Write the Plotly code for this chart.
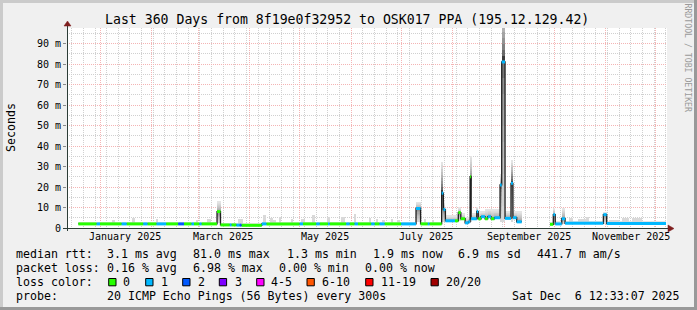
import numpy as np
import pandas as pd
import plotly.graph_objects as go

# ---------------- data ----------------
TITLE = "Last 360 Days from 8f19e0f32952 to OSK017 PPA (195.12.129.42)"
x_range = ["2024-12-12 04:00", "2025-12-07 18:00"]
y_max_ms = 97.56

sample_start = [
    "2024-12-19 00:00", "2024-12-30 00:00", "2025-01-01 00:00", "2025-01-14 00:00",
    "2025-01-17 00:00", "2025-01-27 00:00", "2025-01-29 12:00", "2025-02-04 00:00",
    "2025-02-09 18:00", "2025-02-17 00:00", "2025-02-20 12:00", "2025-02-25 00:00",
    "2025-02-26 12:00", "2025-03-01 18:00", "2025-03-03 00:00", "2025-03-12 08:00",
    "2025-03-14 10:00", "2025-03-20 00:00", "2025-03-21 00:00", "2025-03-24 00:00",
    "2025-03-26 00:00", "2025-03-27 00:00", "2025-04-08 06:00", "2025-04-11 00:00",
    "2025-05-01 00:00", "2025-05-03 00:00", "2025-05-11 00:00", "2025-05-13 00:00",
    "2025-05-18 00:00", "2025-05-19 00:00", "2025-05-29 00:00", "2025-05-31 00:00",
    "2025-06-03 00:00", "2025-06-05 00:00", "2025-06-13 00:00", "2025-06-15 00:00",
    "2025-06-18 00:00", "2025-06-21 00:00", "2025-07-01 00:00", "2025-07-09 22:00",
    "2025-07-12 16:00", "2025-07-17 00:00", "2025-07-18 00:00", "2025-07-25 08:00",
    "2025-07-26 08:00", "2025-07-27 14:00", "2025-08-02 08:00", "2025-08-04 08:00",
    "2025-08-05 20:00", "2025-08-08 10:00", "2025-08-10 08:00", "2025-08-11 10:00",
    "2025-08-12 00:00", "2025-08-15 10:00", "2025-08-16 08:00", "2025-08-18 00:00",
    "2025-08-20 10:00", "2025-08-22 00:00", "2025-08-24 00:00", "2025-08-26 00:00",
    "2025-08-29 10:00", "2025-08-30 10:00", "2025-09-01 10:00", "2025-09-05 00:00",
    "2025-09-06 04:00", "2025-09-08 10:00", "2025-09-11 10:00", "2025-09-28 10:00",
    "2025-09-30 10:00", "2025-10-01 14:00", "2025-10-05 12:00", "2025-10-07 12:00",
    "2025-10-30 12:00", "2025-11-01 12:00",
]
data_end = "2025-12-07 04:00"

median_ms = [
    2.0, 2.0, 2.0, 2.0, 2.0, 2.0, 2.0, 2.0,
    2.0, 2.0, 2.0, 2.0, 2.0, 2.0, 2.0, 8.0,
    1.5, 1.5, 1.5, 1.4, 1.4, 1.3, 2.0, 2.0,
    2.0, 2.0, 2.0, 2.0, 2.0, 2.0, 2.0, 2.0,
    2.0, 2.0, 2.0, 2.0, 2.0, 2.0, 2.0, 9.5,
    2.0, 2.0, 2.0, 17.0, 9.0, 3.5, 3.5, 7.5,
    4.5, 2.5, 3.0, 25.0, 4.5, 8.0, 4.5, 5.5,
    4.5, 5.5, 4.5, 5.0, 21.0, 81.0, 4.7, 21.8,
    5.0, 3.0, None, 1.8, 6.5, 2.0, 4.5, 2.3,
    6.5, 2.2,
]
lost_pings = [
    0, 1, 0, 1, 0, 1, 0, 1,
    0, 2, 0, 1, 0, 1, 0, 0,
    0, 1, 0, 1, 2, 0, 1, 0,
    1, 0, 1, 0, 1, 0, 1, 0,
    1, 0, 1, 0, 1, 0, 1, 1,
    0, 1, 0, 1, 1, 1, 0, 0,
    0, 1, 1, 0, 1, 1, 0, 1,
    0, 1, 0, 1, 1, 1, 1, 1,
    1, 1, None, 0, 1, 1, 1, 1,
    1, 1,
]
smoke_lo_ms = [
    2.0, 2.0, 2.0, 2.0, 2.0, 2.0, 2.0, 2.0,
    2.0, 2.0, 2.0, 2.0, 2.0, 2.0, 2.0, 2.5,
    1.5, 1.5, 1.5, 1.4, 1.4, 1.3, 2.0, 2.0,
    2.0, 2.0, 2.0, 2.0, 2.0, 2.0, 2.0, 2.0,
    2.0, 2.0, 2.0, 2.0, 2.0, 2.0, 2.0, 3.0,
    2.0, 2.0, 2.0, 3.0, 3.0, 3.5, 3.5, 3.5,
    4.5, 2.5, 3.0, 3.0, 4.5, 4.5, 4.5, 5.5,
    4.5, 5.5, 4.5, 5.0, 3.0, 3.0, 4.7, 3.0,
    5.0, 3.0, None, 1.8, 2.0, 2.0, 2.0, 2.3,
    2.0, 2.2,
]
smoke_hi_ms = [
    2.6, 2.6, 2.6, 2.6, 2.6, 2.6, 2.6, 2.6,
    2.6, 2.6, 2.6, 2.6, 2.6, 2.6, 2.6, 12.8,
    2.2, 2.2, 2.2, 2.0, 2.0, 2.0, 2.6, 2.6,
    2.6, 2.6, 2.6, 2.6, 2.6, 2.6, 2.6, 2.6,
    2.6, 2.6, 2.6, 2.6, 2.6, 2.6, 2.6, 12.5,
    2.6, 2.6, 2.6, 32.0, 13.0, 6.0, 6.0, 10.0,
    7.0, 5.0, 5.0, 35.0, 7.0, 10.0, 8.0, 8.0,
    9.0, 9.0, 9.0, 9.0, 26.0, 110.0, 8.0, 33.0,
    8.0, 8.0, None, 2.5, 9.5, 3.0, 9.3, 3.0,
    7.5, 3.0,
]

extra_smoke_start = [
    "2025-01-08", "2025-01-20", "2025-02-04", "2025-02-28", "2025-03-06", "2025-03-25",
    "2025-04-09", "2025-04-13", "2025-04-15", "2025-04-19", "2025-04-26", "2025-05-02",
    "2025-05-09", "2025-05-18", "2025-05-26", "2025-06-03", "2025-06-12", "2025-06-16",
    "2025-06-20", "2025-06-25", "2025-06-29", "2025-07-15", "2025-07-20", "2025-10-10",
    "2025-10-15", "2025-10-20", "2025-11-03", "2025-11-11", "2025-11-17",
]
extra_smoke_end = [
    "2025-01-10", "2025-01-22", "2025-02-05", "2025-03-01", "2025-03-09", "2025-03-28",
    "2025-04-11", "2025-04-15", "2025-04-17", "2025-04-20", "2025-04-27", "2025-05-04",
    "2025-05-10", "2025-05-19", "2025-05-28", "2025-06-04", "2025-06-13", "2025-06-17",
    "2025-06-21", "2025-06-26", "2025-06-30", "2025-07-16", "2025-07-21", "2025-10-12",
    "2025-10-20", "2025-10-22", "2025-11-09", "2025-11-15", "2025-11-23",
]
extra_smoke_top_ms = [
    3.7, 4.9, 4.2, 4.0, 4.5, 4.5,
    6.3, 4.7, 4.0, 5.6, 4.5, 4.5,
    6.3, 5.5, 5.5, 6.7, 5.0, 4.5,
    4.0, 4.5, 4.0, 4.5, 4.0, 4.7,
    4.5, 5.4, 4.0, 4.7, 4.8,
]

month_grid = ["2025-%02d-01" % m for m in range(1, 13)]
month_label_dates = ["2025-01-16", "2025-03-16", "2025-05-16", "2025-07-16", "2025-09-16", "2025-11-16"]
month_labels = ["January 2025", "March 2025", "May 2025", "July 2025", "September 2025", "November 2025"]
y_tick_vals = [0, 10, 20, 30, 40, 50, 60, 70, 80, 90]
y_tick_text = ["0", "10 m", "20 m", "30 m", "40 m", "50 m", "60 m", "70 m", "80 m", "90 m"]
y_minor_vals = [5, 15, 25, 35, 45, 55, 65, 75, 85, 95]

loss_labels = ["0", "1", "2", "3", "4-5", "6-10", "11-19", "20/20"]
loss_upper = [0, 1, 2, 3, 5, 10, 19, 20]
loss_colors = ["#26ff00", "#00b8ff", "#0059ff", "#7e00ff", "#ff00ff", "#ff5500", "#ff0000", "#a00000"]

stats_rtt = [("median rtt:", 16), ("3.1 ms avg", 107.3), ("81.0 ms max", 193.3),
             ("1.3 ms min", 286.7), ("1.9 ms now", 372.7), ("6.9 ms sd", 458.3),
             ("441.7 m am/s", 537.3)]
stats_loss = [("packet loss:", 16), ("0.16 % avg", 107.3), ("6.98 % max", 193.3),
              ("0.00 % min", 279.3), ("0.00 % now", 365.0)]
probe_text = "20 ICMP Echo Pings (56 Bytes) every 300s"
stamp_text = "Sat Dec\u00a0 6 12:33:07 2025"

# ---------------- layout helpers ----------------
FONT = "DejaVu Sans Mono"
PX0, PW, PY0, PH = 67, 600, 228, 200
def fx(px):
    return (px - PX0) / PW
def fy(py):
    return (PY0 - py) / PH

AXIS_C = "#2c3c36"
ARROW_C = "#7f1f1f"
MGRID_C = "#f4b4b4"
GRID_C = "#d0d0d0"

# ---------------- derived ----------------
t = pd.to_datetime(sample_start + [data_end])
starts, ends = t[:-1], t[1:]
dur_ms = np.array((ends - starts) / pd.Timedelta(milliseconds=1), dtype=float)
mids = starts + (ends - starts) / 2
n = len(median_ms)

def loss_class(l):
    for j, u in enumerate(loss_upper):
        if l <= u:
            return j
    return len(loss_upper) - 1

fig = go.Figure()

# smoke: shaded from darker near the median to light at the edges
K = 10
def shade(near, far, f):
    v = int(round(near + (far - near) * (f ** 0.6)))
    return "rgb(%d,%d,%d)" % (v, v, v)

for k in range(K):
    f = k / (K - 1)
    base_up, h_up, col_up, base_dn, h_dn = [], [], [], [], []
    for i in range(n):
        m = median_ms[i]
        if m is None:
            base_up.append(None); h_up.append(None); col_up.append("white")
            base_dn.append(None); h_dn.append(None)
            continue
        hi, lo = smoke_hi_ms[i], smoke_lo_ms[i]
        step = (hi - m) / K
        base_up.append(m + step * k); h_up.append(step)
        col_up.append(shade(60 if hi - m > 10 else 140, 228, f))
        stepd = (m - lo) / K
        base_dn.append(m - stepd * (k + 1)); h_dn.append(stepd)
    fig.add_trace(go.Bar(x=mids, y=h_up, base=base_up, width=dur_ms,
                         marker=dict(color=col_up, line=dict(width=0)),
                         hoverinfo="skip", showlegend=False))
    fig.add_trace(go.Bar(x=mids, y=h_dn, base=base_dn, width=dur_ms,
                         marker=dict(color=shade(120, 215, f), line=dict(width=0)),
                         hoverinfo="skip", showlegend=False))

# scattered light smoke
es = pd.to_datetime(extra_smoke_start)
ee = pd.to_datetime(extra_smoke_end)
emid = es + (ee - es) / 2
ewidth = np.array((ee - es) / pd.Timedelta(milliseconds=1), dtype=float)
idx = np.searchsorted(starts.values, emid.values, side="right") - 1
ebase = [median_ms[i] for i in idx]
fig.add_trace(go.Bar(x=emid, y=[tp - b for tp, b in zip(extra_smoke_top_ms, ebase)], base=ebase,
                     width=ewidth, marker=dict(color="#d9d9d9", line=dict(width=0)),
                     hoverinfo="skip", showlegend=False))

# median line (black steps)
bx, by = [], []
for i in range(n):
    m = median_ms[i]
    if m is None:
        bx.append(starts[i]); by.append(None)
        continue
    bx.append(starts[i]); by.append(m)
    if i == n - 1 or median_ms[i + 1] is None:
        bx.append(ends[i]); by.append(m)
fig.add_trace(go.Scatter(x=bx, y=by, mode="lines", line=dict(color="#202020", width=1.3, shape="hv"),
                         hoverinfo="skip", showlegend=False))

# median coloured by loss (horizontal pieces only)
cls = [None if l is None else loss_class(l) for l in lost_pings]
for c, col in enumerate(loss_colors):
    cx, cy = [], []
    for i in range(n):
        if cls[i] != c:
            continue
        cx += [starts[i], ends[i], ends[i]]
        cy += [median_ms[i], median_ms[i], None]
    if cx:
        fig.add_trace(go.Scatter(x=cx, y=cy, mode="lines", line=dict(color=col, width=3),
                                 hoverinfo="skip", showlegend=False))

# ---------------- axes ----------------
fig.update_xaxes(type="date", range=x_range, tickmode="array", tickvals=month_grid,
                 showticklabels=False, ticks="", showgrid=True, gridcolor=MGRID_C,
                 griddash="1px,1px", gridwidth=1, zeroline=False, showline=False,
                 minor=dict(tick0="2024-12-15", dtick=7 * 86400000, showgrid=True,
                            gridcolor=GRID_C, griddash="1px,1px", gridwidth=1, ticks=""),
                 fixedrange=True)
fig.update_yaxes(range=[0, y_max_ms], tickmode="array", tickvals=y_tick_vals, ticktext=y_tick_text,
                 showgrid=True, gridcolor=MGRID_C, griddash="1px,1px", gridwidth=1,
                 ticks="outside", ticklen=3, tickcolor="#8a8a8a", tickwidth=1,
                 tickfont=dict(family=FONT, size=10, color="black"),
                 zeroline=False, showline=False,
                 minor=dict(tickvals=y_minor_vals, showgrid=True, gridcolor=GRID_C,
                            griddash="1px,1px", gridwidth=1, ticks=""),
                 fixedrange=True)

shapes = []
# frame shading
shapes += [
    dict(type="rect", xref="paper", yref="paper", x0=fx(0), x1=fx(697), y0=fy(3), y1=fy(0),
         fillcolor="#cbcbcb", line=dict(width=0), layer="below"),
    dict(type="rect", xref="paper", yref="paper", x0=fx(0), x1=fx(3), y0=fy(310), y1=fy(0),
         fillcolor="#cbcbcb", line=dict(width=0), layer="below"),
    dict(type="rect", xref="paper", yref="paper", x0=fx(0), x1=fx(697), y0=fy(310), y1=fy(307),
         fillcolor="#999999", line=dict(width=0), layer="below"),
    dict(type="rect", xref="paper", yref="paper", x0=fx(694), x1=fx(697), y0=fy(310), y1=fy(0),
         fillcolor="#999999", line=dict(width=0), layer="below"),
]
# axes with arrows
shapes += [
    dict(type="line", xref="paper", yref="paper", x0=fx(63), x1=fx(669), y0=fy(228.5), y1=fy(228.5),
         line=dict(color=AXIS_C, width=1)),
    dict(type="line", xref="paper", yref="paper", x0=fx(67.5), x1=fx(67.5), y0=fy(231), y1=fy(25),
         line=dict(color=AXIS_C, width=1)),
    dict(type="path", xref="paper", yref="paper",
         path="M %f,%f L %f,%f L %f,%f Z" % (fx(668), fy(225), fx(674), fy(228.5), fx(668), fy(232)),
         fillcolor=ARROW_C, line=dict(color=ARROW_C, width=0.5)),
    dict(type="path", xref="paper", yref="paper",
         path="M %f,%f L %f,%f L %f,%f Z" % (fx(64), fy(26), fx(67.5), fy(21), fx(71), fy(26)),
         fillcolor=ARROW_C, line=dict(color=ARROW_C, width=0.5)),
]

annotations = []
def text(px, py, s, size=11.6, anchor="left", color="black", angle=0, xref="paper"):
    annotations.append(dict(x=px if xref == "x" else fx(px), y=fy(py), xref=xref, yref="paper",
                            text=s, showarrow=False, xanchor=anchor, yanchor="middle",
                            textangle=angle, borderpad=0, borderwidth=0,
                            font=dict(family=FONT, size=size, color=color)))

text(346.8, 19.5, TITLE, size=13.2, anchor="center")
text(11, 128, "Seconds", size=11.6, anchor="center", angle=-90)
text(687.5, 58, "RRDTOOL / TOBI OETIKER", size=8.2, anchor="center", angle=90, color="#9a9a9a")
for d, lab in zip(month_label_dates, month_labels):
    text(d, 236.5, lab, size=10, anchor="center", xref="x")

L1, L2, L3, L4 = 254.2, 268.2, 281.9, 295.9
for s, px in stats_rtt:
    text(px, L1, s)
for s, px in stats_loss:
    text(px, L2, s)
text(16, L3, "loss color:")
box_x = [108.7, 145.7, 182.7, 219.3, 256.7, 307.0, 365.7, 431.0]
lab_x = [123.3, 160.7, 197.7, 234.7, 271.3, 322.0, 380.7, 445.7]
for bxp, lxp, lab, col in zip(box_x, lab_x, loss_labels, loss_colors):
    shapes.append(dict(type="rect", xref="paper", yref="paper", x0=fx(bxp), x1=fx(bxp + 7.3),
                       y0=fy(285.8), y1=fy(278.5), fillcolor=col, line=dict(color="black", width=1)))
    text(lxp, L3, lab)
text(16, L4, "probe:")
text(107.3, L4, probe_text)
text(680, L4, stamp_text, anchor="right")

fig.update_layout(width=697, height=310, autosize=False,
                  margin=dict(l=PX0, r=697 - PX0 - PW, t=PY0 - PH, b=310 - PY0),
                  paper_bgcolor="#f0f0f0", plot_bgcolor="#ffffff",
                  barmode="overlay", bargap=0, showlegend=False,
                  shapes=shapes, annotations=annotations,
                  font=dict(family=FONT, size=11.6, color="black"))

fig.write_html("out.html")
